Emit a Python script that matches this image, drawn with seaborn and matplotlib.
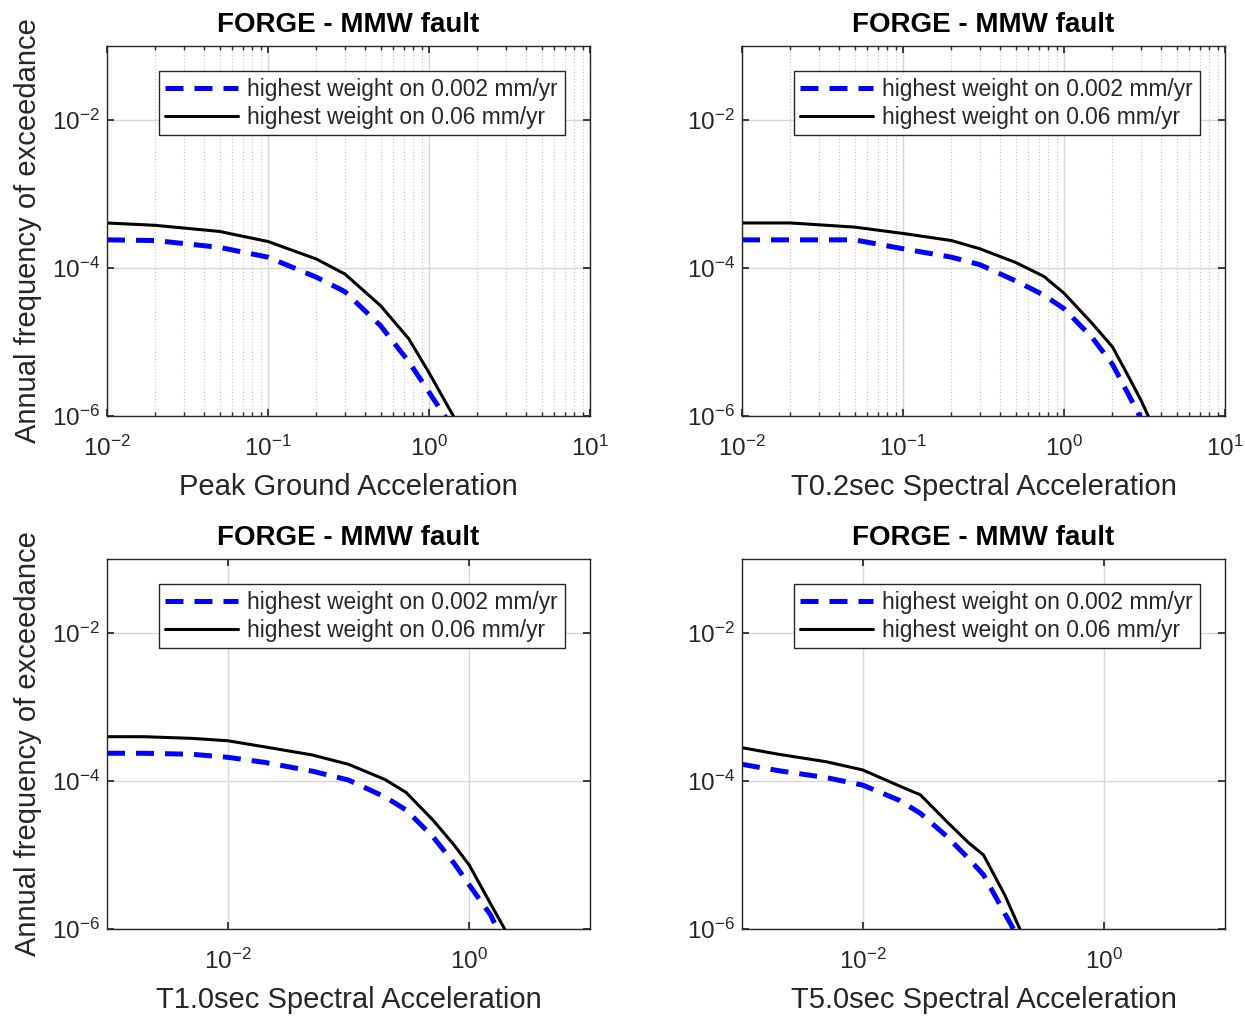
import numpy as np
import pandas as pd
import matplotlib
matplotlib.use("Agg")
import matplotlib.pyplot as plt
import seaborn as sns
from matplotlib.ticker import FixedLocator, FixedFormatter, NullLocator, NullFormatter

# ---------------- data ----------------
title_text = "FORGE - MMW fault"
series_labels = ["highest weight on 0.002 mm/yr", "highest weight on 0.06 mm/yr"]
y_label = "Annual frequency of exceedance"
x_labels = ["Peak Ground Acceleration", "T0.2sec Spectral Acceleration",
            "T1.0sec Spectral Acceleration", "T5.0sec Spectral Acceleration"]

# Peak Ground Acceleration
pga_x = [0.01, 0.02, 0.05, 0.1, 0.2, 0.3, 0.5, 0.75, 1.0, 1.5]
pga_low = [2.4e-4, 2.35e-4, 1.9e-4, 1.40e-4, 7.5e-5, 4.8e-5, 1.66e-5, 5.4e-6, 2.1e-6, 5.5e-7]
pga_high = [4.06e-4, 3.77e-4, 3.12e-4, 2.28e-4, 1.32e-4, 8.3e-5, 3.1e-5, 1.1e-5, 3.85e-6, 8.0e-7]

# T0.2 sec
t02_x = [0.01, 0.02, 0.05, 0.1, 0.2, 0.3, 0.5, 0.75, 1.0, 1.5, 2.0, 2.5, 3.0, 3.5]
t02_low = [2.4e-4, 2.4e-4, 2.4e-4, 1.82e-4, 1.40e-4, 1.11e-4, 6.7e-5, 4.3e-5, 2.82e-5,
           1.14e-5, 5.0e-6, 2.0e-6, 9.3e-7, 4.7e-7]
t02_high = [4.06e-4, 4.06e-4, 3.57e-4, 2.93e-4, 2.35e-4, 1.82e-4, 1.19e-4, 7.7e-5, 4.57e-5,
            1.77e-5, 8.6e-6, 3.5e-6, 1.65e-6, 8.0e-7]

# T1.0 sec
t10_x = [0.001, 0.002, 0.005, 0.01, 0.02, 0.05, 0.1, 0.2, 0.3, 0.5, 0.75, 1.0, 1.5, 2.0, 2.5]
t10_low = [2.37e-4, 2.37e-4, 2.3e-4, 2.09e-4, 1.79e-4, 1.36e-4, 1.03e-4, 6.1e-5, 4.06e-5,
           1.77e-5, 7.7e-6, 3.94e-6, 1.55e-6, 6.0e-7, 2.0e-7]
t10_high = [3.97e-4, 3.97e-4, 3.77e-4, 3.5e-4, 2.9e-4, 2.25e-4, 1.68e-4, 1.05e-4, 7.0e-5,
            2.97e-5, 1.36e-5, 7.3e-6, 2.2e-6, 9.5e-7, 3.0e-7]

# T5.0 sec
t50_x = [0.001, 0.002, 0.005, 0.01, 0.02, 0.03, 0.05, 0.075, 0.1, 0.15, 0.2, 0.3]
t50_low = [1.68e-4, 1.38e-4, 1.11e-4, 8.8e-5, 5.5e-5, 3.66e-5, 1.77e-5, 9.0e-6, 5.4e-6,
           1.62e-6, 7.0e-7, 1.5e-7]
t50_high = [2.82e-4, 2.3e-4, 1.82e-4, 1.41e-4, 8.6e-5, 6.5e-5, 2.8e-5, 1.47e-5, 1.0e-5,
            2.88e-6, 1.0e-6, 2.0e-7]

top_xticks = [1e-2, 1e-1, 1e0, 1e1]
top_xticklabels = [r"$10^{-2}$", r"$10^{-1}$", r"$10^{0}$", r"$10^{1}$"]
bot_xticks = [1e-2, 1e0]
bot_xticklabels = [r"$10^{-2}$", r"$10^{0}$"]
yticks = [1e-6, 1e-4, 1e-2]
yticklabels = [r"$10^{-6}$", r"$10^{-4}$", r"$10^{-2}$"]

# ---------------- style ----------------
sns.set_theme(style="ticks")
plt.rcParams.update({
    "font.family": ["Liberation Sans", "DejaVu Sans"],
    "mathtext.fontset": "custom",
    "mathtext.rm": "Liberation Sans",
    "mathtext.it": "Liberation Sans:italic",
    "mathtext.bf": "Liberation Sans:bold",
    "mathtext.default": "regular",
    "axes.edgecolor": "#262626",
    "axes.linewidth": 1.0,
    "xtick.direction": "in",
    "ytick.direction": "in",
    "xtick.top": True,
    "ytick.right": True,
    "xtick.color": "#262626",
    "ytick.color": "#262626",
    "xtick.major.size": 5,
    "ytick.major.size": 5,
    "xtick.minor.size": 2.8,
    "ytick.minor.size": 2.8,
    "xtick.labelsize": 17.5,
    "ytick.labelsize": 17.5,
})

fig = plt.figure(figsize=(12.45, 10.16), dpi=100)
W, H = 1245, 1016
aw, ah = 483 / W, 370 / H
positions = [(107 / W, 1 - 416 / H), (742 / W, 1 - 416 / H),
             (107 / W, 1 - 929 / H), (742 / W, 1 - 929 / H)]

panels = [
    (pga_x, pga_low, pga_high, (1e-2, 1e1), top_xticks, top_xticklabels, True),
    (t02_x, t02_low, t02_high, (1e-2, 1e1), top_xticks, top_xticklabels, True),
    (t10_x, t10_low, t10_high, (1e-3, 1e1), bot_xticks, bot_xticklabels, False),
    (t50_x, t50_low, t50_high, (1e-3, 1e1), bot_xticks, bot_xticklabels, False),
]

for i, (px, (xs, lo, hi, xl, xt, xtl, minor)) in enumerate(zip(positions, panels)):
    ax = fig.add_axes([px[0], px[1], aw, ah])
    ax.set_xscale("log")
    ax.set_yscale("log")
    ax.set_xlim(*xl)
    ax.set_ylim(1e-6, 1e-1)

    # grid
    ax.grid(True, which="major", color="#d6d6d6", linewidth=1.0, linestyle="-")
    ax.xaxis.set_major_locator(FixedLocator(xt))
    ax.xaxis.set_major_formatter(FixedFormatter(xtl))
    ax.yaxis.set_major_locator(FixedLocator(yticks))
    ax.yaxis.set_major_formatter(FixedFormatter(yticklabels))
    ax.yaxis.set_minor_locator(NullLocator())
    if minor:
        mt = [m * 10.0 ** e for e in range(-2, 1) for m in range(2, 10)]
        ax.xaxis.set_minor_locator(FixedLocator(mt))
        ax.xaxis.set_minor_formatter(NullFormatter())
        ax.grid(True, which="minor", axis="x", color="#c4c4c4",
                linewidth=0.8, linestyle=(0, (1, 2)))
    else:
        ax.xaxis.set_minor_locator(NullLocator())
    ax.set_axisbelow(True)

    df = pd.DataFrame({"x": xs, "low": lo, "high": hi})
    sns.lineplot(data=df, x="x", y="low", ax=ax, color="#0000ff", linewidth=3.6,
                 linestyle=(0, (3.6, 2.2)), estimator=None, label=series_labels[0])
    sns.lineplot(data=df, x="x", y="high", ax=ax, color="black", linewidth=2.2,
                 estimator=None, label=series_labels[1])

    ax.tick_params(axis="x", which="major", pad=14)
    ax.tick_params(axis="y", which="major", pad=5)
    ax.set_title(title_text, fontsize=20, fontweight="bold", color="black", pad=10)
    ax.set_xlabel(x_labels[i], fontsize=21, color="#262626", labelpad=9)
    if i % 2 == 0:
        ax.set_ylabel(y_label, fontsize=21, color="#262626", labelpad=7)
    else:
        ax.set_ylabel("")

    leg = ax.legend(loc="upper right", bbox_to_anchor=(0.948, 0.932),
                    borderaxespad=0, fontsize=16.4, frameon=True, fancybox=False,
                    edgecolor="#262626", framealpha=1, handlelength=3.2,
                    handletextpad=0.4, labelspacing=0.2, borderpad=0.3)
    leg.get_frame().set_linewidth(1.0)
    for t in leg.get_texts():
        t.set_color("#262626")
    for sp in ax.spines.values():
        sp.set_visible(True)

fig.savefig("out.png", dpi=100)
